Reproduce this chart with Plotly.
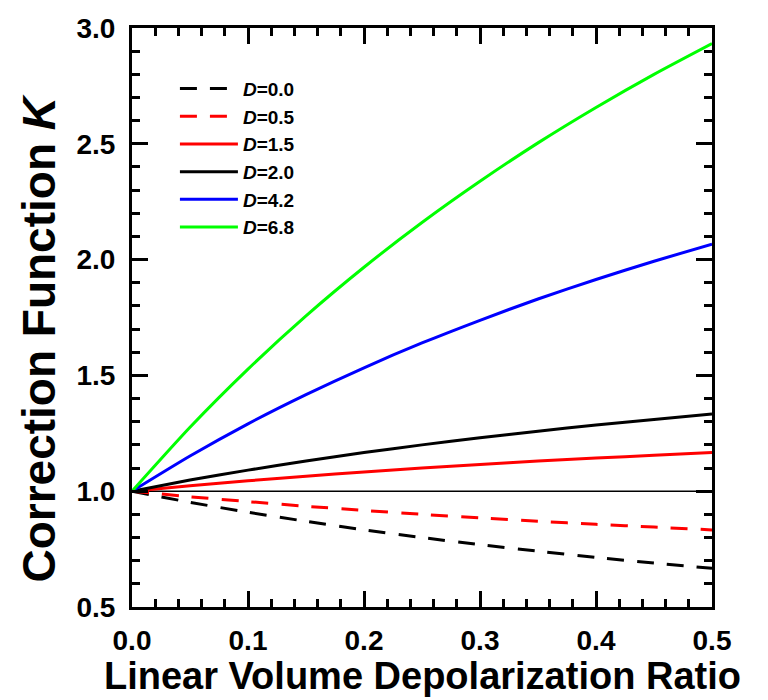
import plotly.graph_objects as go

# Linear volume depolarization ratio (x) and correction function K for each D
delta = [0.00, 0.05, 0.10, 0.15, 0.20, 0.25, 0.30, 0.35, 0.40, 0.45, 0.50]

k_d00 = [1.000, 0.952, 0.909, 0.870, 0.833, 0.800, 0.769, 0.741, 0.714, 0.690, 0.667]
k_d05 = [1.000, 0.976, 0.955, 0.935, 0.917, 0.900, 0.885, 0.870, 0.857, 0.845, 0.833]
k_d15 = [1.000, 1.024, 1.045, 1.065, 1.083, 1.100, 1.115, 1.130, 1.143, 1.155, 1.167]
k_d20 = [1.000, 1.048, 1.091, 1.130, 1.167, 1.200, 1.231, 1.259, 1.286, 1.310, 1.333]
k_d42 = [1.000, 1.152, 1.291, 1.417, 1.533, 1.640, 1.738, 1.830, 1.914, 1.993, 2.067]
k_d68 = [1.000, 1.276, 1.527, 1.757, 1.967, 2.160, 2.338, 2.504, 2.657, 2.800, 2.933]

legend_names = ["<i>D</i>=0.0", "<i>D</i>=0.5", "<i>D</i>=1.5",
                "<i>D</i>=2.0", "<i>D</i>=4.2", "<i>D</i>=6.8"]
series = [k_d00, k_d05, k_d15, k_d20, k_d42, k_d68]
colors = ["#000000", "#ff0000", "#ff0000", "#000000", "#0000ff", "#00ff00"]
dashes = ["17px,13px", "17px,13px", "solid", "solid", "solid", "solid"]

FONT = "Liberation Sans, Arial, sans-serif"

fig = go.Figure()

for name, ys, col, dash in zip(legend_names, series, colors, dashes):
    fig.add_trace(go.Scatter(
        x=delta, y=ys, mode="lines", name=name,
        line=dict(color=col, width=3, dash=dash, shape="spline", smoothing=0.6),
    ))

# reference line at K = 1
fig.add_shape(type="line", xref="x", yref="y", x0=0, x1=0.5, y0=1.0, y1=1.0,
              line=dict(color="#000000", width=1.5), layer="below")

axis_common = dict(
    showline=True, linecolor="#000000", linewidth=3, mirror="allticks",
    ticks="inside", tickwidth=3, ticklen=16, tickcolor="#000000",
    showgrid=False, zeroline=False,
    tickfont=dict(family=FONT, size=28, color="#000000", weight="bold"),
)

fig.update_xaxes(
    range=[0, 0.5], tick0=0, dtick=0.1, tickformat=".1f",
    minor=dict(ticks="inside", ticklen=8, tickwidth=2.5, tickcolor="#000000", dtick=0.02),
    ticklabelstandoff=6,
    **axis_common,
)
fig.update_yaxes(
    range=[0.5, 3.0], tick0=0.5, dtick=0.5, tickformat=".1f",
    minor=dict(ticks="inside", ticklen=8, tickwidth=2.5, tickcolor="#000000", dtick=0.1),
    ticklabelstandoff=8,
    **axis_common,
)

fig.add_annotation(
    text="Linear Volume Depolarization Ratio", xref="paper", yref="paper",
    x=0.5, y=-0.119, xanchor="center", yanchor="middle", showarrow=False,
    font=dict(family=FONT, size=38, color="#000000", weight="bold"),
)
fig.add_annotation(
    text="Correction Function <i>K</i>", xref="paper", yref="paper",
    x=-0.161, y=0.463, xanchor="center", yanchor="middle", showarrow=False,
    textangle=-90,
    font=dict(family=FONT, size=46, color="#000000", weight="bold"),
)

fig.update_layout(
    width=768, height=700,
    margin=dict(l=132, r=56, t=28, b=93),
    paper_bgcolor="#ffffff", plot_bgcolor="#ffffff",
    showlegend=True,
    legend=dict(
        x=0.074, y=0.928, xanchor="left", yanchor="top",
        bgcolor="rgba(0,0,0,0)", borderwidth=0,
        font=dict(family=FONT, size=19, color="#000000", weight="bold"),
        itemwidth=58,
    ),
)

fig.write_html("out.html")
